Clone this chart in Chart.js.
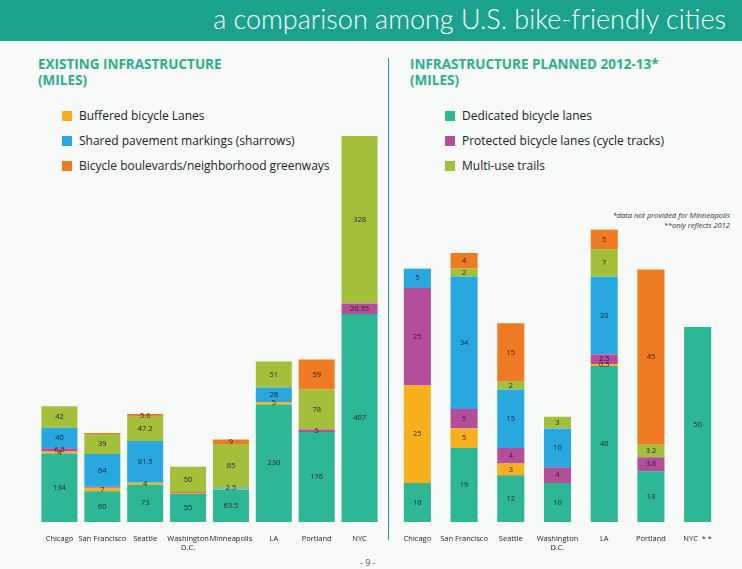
<!DOCTYPE html><html><head><meta charset="utf-8">
<script src="https://cdn.jsdelivr.net/npm/chart.js@4"></script>
<style>
body{margin:0;width:742px;height:569px;background:#f7faf9;font-family:"Open Sans",sans-serif;position:relative;overflow:hidden}
#hdr{position:absolute;left:0;top:0;width:742px;height:41px;background:#1ba28c}
#hdr span{position:absolute;right:16px;top:2px;color:#fff;font-size:27px;font-family:"Lato","Open Sans",sans-serif;font-weight:300}
.t{position:absolute;color:#2bae8c;font-weight:bold;font-size:13.5px;line-height:16px}
.lg{position:absolute;font-size:12px;color:#222}
.lg div{height:25px;display:flex;align-items:center}
.lg i{display:inline-block;width:10px;height:10px;margin-right:7px}
#div{position:absolute;left:388px;top:58px;width:1px;height:482px;background:#1ba28c}
#note{position:absolute;right:12px;top:210px;font-size:7.5px;font-style:italic;text-align:right;color:#333;line-height:10px}
#pg{position:absolute;left:360px;top:556px;font-size:9px;color:#555}
canvas{position:absolute}
</style></head><body>
<div id="hdr"><span>a comparison among U.S. bike-friendly cities</span></div>
<div class="t" style="left:38px;top:56px">EXISTING INFRASTRUCTURE<br>(MILES)</div>
<div class="t" style="left:410px;top:56px">INFRASTRUCTURE PLANNED 2012-13*<br>(MILES)</div>
<div class="lg" style="left:62px;top:103px">
<div><i style="background:#f6b01e"></i>Buffered bicycle Lanes</div>
<div><i style="background:#29a8e0"></i>Shared pavement markings (sharrows)</div>
<div><i style="background:#ee7a22"></i>Bicycle boulevards/neighborhood greenways</div></div>
<div class="lg" style="left:445px;top:103px">
<div><i style="background:#2db795"></i>Dedicated bicycle lanes</div>
<div><i style="background:#b44d9a"></i>Protected bicycle lanes (cycle tracks)</div>
<div><i style="background:#a4bf3a"></i>Multi-use trails</div></div>
<div id="div"></div>
<div id="note">*data not provided for Minneapolis<br>**only reflects 2012</div>
<div id="pg">- 9 -</div>
<canvas id="c1" style="left:38px;top:108px;width:343px;height:448px" width="343" height="448"></canvas>
<canvas id="c2" style="left:394px;top:108px;width:327px;height:448px" width="327" height="448"></canvas>
<script>
const colors=["#2db795","#f6b01e","#b44d9a","#29a8e0","#a4bf3a","#ee7a22"];
const names=["Dedicated bicycle lanes","Buffered bicycle lanes","Protected bicycle lanes (cycle tracks)","Shared pavement markings (sharrows)","Multi-use trails","Bicycle boulevards/neighborhood greenways"];
const citiesL=["Chicago","San Francisco","Seattle",["Washington","D.C."],"Minneapolis","LA","Portland","NYC"];
const L_dedicated=[134,60,73,55,63.5,230,176,407];
const L_buffered=[4,7,4,1.5,1.5,5,0,0];
const L_protected=[6.5,2,0,1.5,0,0,5,20.35];
const L_sharrows=[40,64,81.5,0,2.5,28,0,0];
const L_trails=[42,39,47.2,50,85,51,78,328];
const L_boulevards=[0,2,5.6,0,9,0,59,0];
const citiesR=["Chicago","San Francisco","Seattle",["Washington","D.C."],"LA","Portland","NYC  * *"];
const R_dedicated=[10,19,12,10,40,13,50];
const R_buffered=[25,5,3,0,0.5,0,0];
const R_protected=[25,5,4,4,2.5,3.6,0];
const R_sharrows=[5,34,15,10,20,0,0];
const R_trails=[0,2,2,3,7,3.2,0];
const R_boulevards=[0,4,15,0,5,45,0];
const labelsPlugin={id:'lbl',afterDatasetsDraw(ch,a,o){const c=ch.ctx;c.save();c.font='7.5px "Open Sans"';c.fillStyle='#223';c.textAlign='center';c.textBaseline='middle';
ch.data.datasets.forEach((ds,i)=>{ch.getDatasetMeta(i).data.forEach((b,j)=>{const v=ds.data[j];if(v>=o.min||v===0.5){c.fillText(String(v),b.x,(b.y+b.base)/2);}});});c.restore();}};
function make(id,cats,sets,max,bp,min){
new Chart(document.getElementById(id),{type:'bar',data:{labels:cats,datasets:sets.map((d,i)=>({label:names[i],data:d,backgroundColor:colors[i],borderWidth:0}))},
options:{responsive:false,animation:false,layout:{padding:0},plugins:{legend:{display:false},tooltip:{enabled:false},lbl:{min:min}},
scales:{x:{stacked:true,grid:{display:false},border:{display:false},ticks:{font:{size:7.5,family:'"Open Sans"'},color:'#222',padding:4,maxRotation:0,autoSkip:false}},
y:{stacked:true,display:false,min:0,max:max}},datasets:{bar:{categoryPercentage:1,barPercentage:bp}}},plugins:[labelsPlugin]});}
make('c1',citiesL,[L_dedicated,L_buffered,L_protected,L_sharrows,L_trails,L_boulevards],810,0.84,2.5);
make('c2',citiesR,[R_dedicated,R_buffered,R_protected,R_sharrows,R_trails,R_boulevards],106.2,0.58,0.1);
</script></body></html>
